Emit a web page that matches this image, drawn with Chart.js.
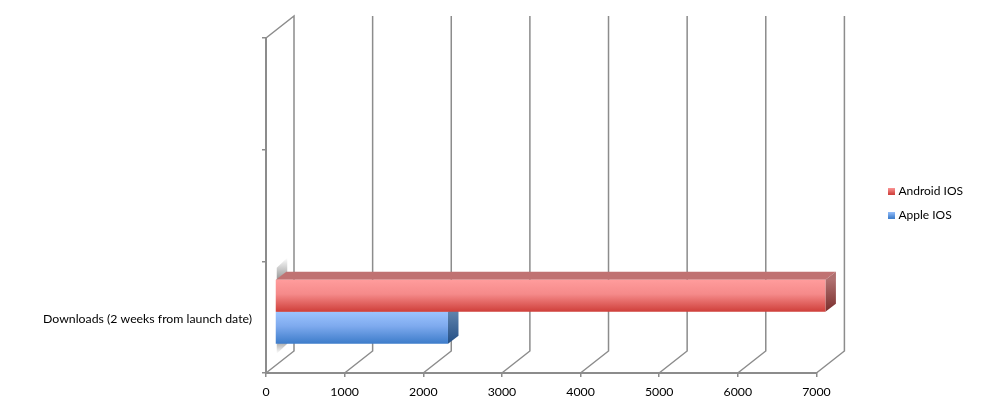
<!DOCTYPE html>
<html lang="en">
<head>
    <meta charset="UTF-8">
    <title>Downloads</title>
    <script src="https://cdn.jsdelivr.net/npm/chart.js"></script>
    <style>
        html, body { margin: 0; padding: 0; background: #fff; }
        canvas { display: block; }
    </style>
</head>
<body>
    <canvas id="myChart" width="1000" height="406"></canvas>

    <script>
        const categories = ['', '', 'Downloads (2 weeks from launch date)'];
        const androidValues = [null, null, 7000];
        const appleValues = [null, null, 2200];
        const seriesNames = ['Android IOS', 'Apple IOS'];
        const axisMax = 7000;
        const axisStep = 1000;

        const axisColor = '#8c8c8c';
        const fontName = 'Lato, Carlito, sans-serif';
        const categoryShare = 0.573;

        // gradient of the front face, top to bottom
        const redFront = ['#ff9c9c', '#f58a8a', '#cf3f3a'];
        const blueFront = ['#9cc4ff', '#7eaaee', '#3d7cca'];

        function frontGradient(context, stops, below) {
            const chart = context.chart;
            const y = chart.scales.y;
            const center = y.getPixelForValue(context.dataIndex);
            const h = (y.height / categories.length) * categoryShare / 2;
            const top = below ? center : center - h;
            const g = chart.ctx.createLinearGradient(0, top, 0, top + h);
            g.addColorStop(0, stops[0]);
            g.addColorStop(0.45, stops[1]);
            g.addColorStop(1, stops[2]);
            return g;
        }

        function polygon(ctx, pts, fill) {
            ctx.beginPath();
            ctx.moveTo(pts[0][0], pts[0][1]);
            pts.slice(1).forEach(p => ctx.lineTo(p[0], p[1]));
            ctx.closePath();
            ctx.fillStyle = fill;
            ctx.fill();
        }

        // small gradient square used as legend marker
        function swatch(stops) {
            const c = document.createElement('canvas');
            c.width = 7;
            c.height = 7;
            const x = c.getContext('2d');
            const g = x.createLinearGradient(0, 0, 0, 7);
            g.addColorStop(0, stops[0]);
            g.addColorStop(1, stops[2]);
            x.fillStyle = g;
            x.fillRect(0, 0, 7, 7);
            return c;
        }

        // back wall lines, side faces of the bars, bars pushed into the depth
        const fake3d = {
            id: 'fake3d',
            wall: { dx: 28, dy: 22 },
            bar: { x: 9, y: -5.5, dx: 10.5, dy: 8 },
            beforeDatasetsDraw(chart) {
                const ctx = chart.ctx;
                const xs = chart.scales.x;
                const area = chart.chartArea;
                const wall = this.wall;
                const bar = this.bar;

                ctx.save();
                ctx.strokeStyle = axisColor;
                ctx.lineWidth = 1.5;
                xs.ticks.forEach((t, i) => {
                    const px = xs.getPixelForValue(t.value);
                    ctx.beginPath();
                    ctx.moveTo(px, area.bottom);
                    ctx.lineTo(px + wall.dx, area.bottom - wall.dy);
                    ctx.lineTo(px + wall.dx, area.top - wall.dy);
                    if (i === 0) ctx.lineTo(px, area.top);
                    ctx.stroke();
                });

                ctx.translate(bar.x, bar.y);
                const rects = [];
                [1, 0].forEach(ds => {
                    chart.getDatasetMeta(ds).data.forEach((el, i) => {
                        if (chart.data.datasets[ds].data[i] == null) return;
                        const p = el.getProps(['x', 'y', 'base', 'height'], true);
                        rects[ds] = {
                            left: p.base,
                            right: p.x,
                            top: p.y - p.height / 2,
                            bottom: p.y + p.height / 2
                        };
                    });
                });

                // grey stubs above and below the bars
                const up = rects[0];
                const down = rects[1];
                let g = ctx.createLinearGradient(0, up.top - 2, 0, up.top - 22);
                g.addColorStop(0, '#a0a0a0');
                g.addColorStop(1, '#ffffff');
                polygon(ctx, [[up.left + 1, up.top], [up.left + 1, up.top - 12], [up.left + bar.dx + 1, up.top - 22], [up.left + bar.dx + 1, up.top - 8]], g);
                g = ctx.createLinearGradient(0, down.bottom, 0, down.bottom + 10);
                g.addColorStop(0, '#b4b4b4');
                g.addColorStop(1, '#ffffff');
                polygon(ctx, [[down.left + 1, down.bottom], [down.left + bar.dx + 1, down.bottom - 8], [down.left + bar.dx + 1, down.bottom], [down.left + 1, down.bottom + 10]], g);

                // side and top faces, blue first so the red sits over it
                const faces = [
                    { r: down, top: '#c08a8a', side: ['#5f83ad', '#234e84'] },
                    { r: up, top: '#c07272', side: ['#b07070', '#7a2e2c'] }
                ];
                faces.forEach(f => {
                    const r = f.r;
                    polygon(ctx, [[r.left, r.top], [r.left + bar.dx, r.top - bar.dy], [r.right + bar.dx, r.top - bar.dy], [r.right, r.top]], f.top);
                    const s = ctx.createLinearGradient(0, r.top, 0, r.bottom);
                    s.addColorStop(0, f.side[0]);
                    s.addColorStop(1, f.side[1]);
                    polygon(ctx, [[r.right, r.top], [r.right + bar.dx, r.top - bar.dy], [r.right + bar.dx, r.bottom - bar.dy], [r.right, r.bottom]], s);
                });
                ctx.restore();

                ctx.save();
                ctx.translate(bar.x, bar.y);
            },
            afterDatasetsDraw(chart) {
                chart.ctx.restore();
            }
        };

        new Chart(document.getElementById('myChart').getContext('2d'), {
            type: 'bar',
            plugins: [fake3d],
            data: {
                labels: categories,
                datasets: [
                    {
                        label: seriesNames[0],
                        data: androidValues,
                        backgroundColor: c => frontGradient(c, redFront, false),
                        clip: false
                    },
                    {
                        label: seriesNames[1],
                        data: appleValues,
                        backgroundColor: c => frontGradient(c, blueFront, true),
                        clip: false
                    }
                ]
            },
            options: {
                indexAxis: 'y',
                responsive: false,
                animation: false,
                layout: { padding: { right: 27 } },
                datasets: { bar: { barPercentage: 1, categoryPercentage: categoryShare } },
                scales: {
                    x: {
                        min: 0,
                        max: axisMax,
                        afterFit(scale) { scale.height = 33; },
                        ticks: {
                            stepSize: axisStep,
                            color: '#000',
                            padding: 8,
                            maxRotation: 0,
                            font: { family: fontName, size: 12.3 },
                            callback: v => String(v)
                        },
                        grid: { drawOnChartArea: false, color: axisColor, lineWidth: 1.5, tickLength: 4 },
                        border: { color: axisColor, width: 2 }
                    },
                    y: {
                        afterFit(scale) { scale.width = 266; },
                        ticks: { autoSkip: false, color: '#000', padding: 10, labelOffset: 2, font: { family: fontName, size: 12.3 } },
                        grid: { drawOnChartArea: false, color: axisColor, lineWidth: 1.5, tickLength: 4 },
                        border: { color: axisColor, width: 2 }
                    },
                    // empty axes, they only hold the plot away from the legend and the top edge
                    y2: {
                        type: 'linear',
                        position: 'right',
                        afterFit(scale) { scale.width = 63; },
                        ticks: { display: false },
                        grid: { display: false },
                        border: { display: false }
                    },
                    x2: {
                        type: 'linear',
                        position: 'top',
                        afterFit(scale) { scale.height = 38; },
                        ticks: { display: false },
                        grid: { display: false },
                        border: { display: false }
                    }
                },
                plugins: {
                    tooltip: { enabled: false },
                    legend: {
                        position: 'right',
                        labels: {
                            usePointStyle: true,
                            pointStyleWidth: 1,
                            boxHeight: 7,
                            padding: 12,
                            color: '#000',
                            font: { family: fontName, size: 12 },
                            generateLabels() {
                                return seriesNames.map((name, i) => ({
                                    text: name,
                                    datasetIndex: i,
                                    lineWidth: 0,
                                    strokeStyle: 'transparent',
                                    fontColor: '#000',
                                    pointStyle: swatch(i === 0 ? redFront : blueFront)
                                }));
                            }
                        }
                    }
                }
            }
        });
    </script>
</body>
</html>
